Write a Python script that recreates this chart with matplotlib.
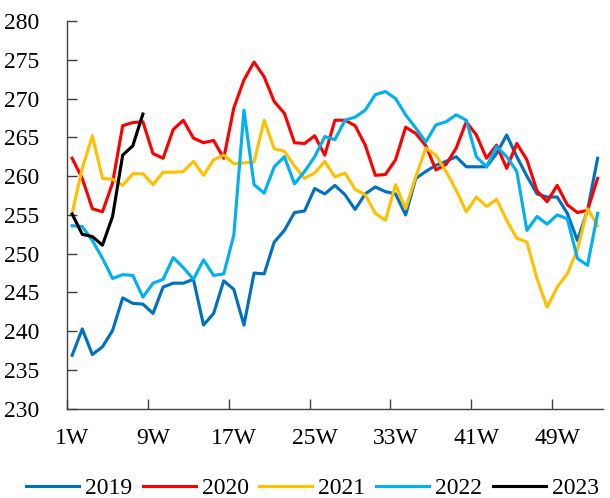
import matplotlib
matplotlib.use("Agg")
import matplotlib.pyplot as plt
from matplotlib.ticker import FixedLocator, NullFormatter

plt.rcParams['font.family'] = ['Liberation Serif', 'DejaVu Serif']

# weekly values
weeks = list(range(1, 54))
tick_weeks = [1, 9, 17, 25, 33, 41, 49]
tick_labels = ["1W", "9W", "17W", "25W", "33W", "41W", "49W"]

y2019 = [236.9, 240.3, 237.0, 238.0, 240.1, 244.3, 243.6, 243.5, 242.3, 245.7,
         246.2, 246.2, 246.7, 240.8, 242.3, 246.5, 245.4, 240.8, 247.5, 247.4,
         251.5, 253.0, 255.3, 255.5, 258.4, 257.7, 258.8, 257.6, 255.7, 257.7,
         258.6, 258.0, 257.7, 255.0, 259.7, 260.6, 261.4, 261.9, 262.5, 261.2,
         261.2, 261.2, 262.9, 265.3, 262.5, 260.0, 257.7, 257.3, 257.3, 255.2,
         251.7, 255.6, 262.3]
y2020 = [262.3, 259.7, 255.8, 255.4, 259.1, 266.5, 266.9, 267.0, 262.9, 262.3,
         266.0, 267.2, 264.9, 264.3, 264.6, 262.3, 268.8, 272.4, 274.7, 272.8,
         269.6, 268.1, 264.3, 264.2, 265.2, 262.7, 267.2, 267.2, 266.5, 264.0,
         260.1, 260.2, 262.1, 266.3, 265.5, 263.9, 260.8, 261.5, 263.6, 267.0,
         265.3, 262.3, 264.0, 261.0, 264.2, 262.1, 258.1, 256.7, 258.8, 256.3,
         255.3, 255.6, 259.7]
y2021 = [255.2, 261.0, 265.2, 259.7, 259.6, 258.8, 260.3, 260.3, 258.9, 260.5,
         260.5, 260.6, 261.9, 260.1, 262.1, 262.7, 261.6, 261.7, 261.8, 267.2,
         263.5, 263.2, 261.3, 259.7, 260.4, 261.9, 259.9, 260.4, 258.3, 257.6,
         255.2, 254.3, 258.9, 255.8, 259.9, 263.6, 262.7, 260.6, 258.2, 255.4,
         257.3, 256.1, 257.0, 254.3, 252.0, 251.5, 246.8, 243.1, 245.7, 247.4,
         250.5, 255.8, 253.6]
y2022 = [253.6, 253.5, 251.7, 249.4, 246.8, 247.3, 247.2, 244.4, 246.2, 246.7,
         249.5, 248.2, 246.7, 249.2, 247.2, 247.4, 252.4, 268.5, 258.9, 257.8,
         261.2, 262.5, 259.0, 260.6, 262.5, 265.1, 264.7, 267.2, 267.6, 268.5,
         270.5, 270.9, 270.0, 267.9, 266.2, 264.4, 266.6, 267.0, 267.9, 267.2,
         262.5, 261.2, 263.8, 262.5, 260.6, 253.0, 254.8, 253.8, 255.0, 254.5,
         249.4, 248.5, 255.2]
y2023 = [255.1, 252.5, 252.2, 251.1, 254.8, 262.7, 263.9, 268.0]

series = [("2019", y2019, "#0070C0"),
          ("2020", y2020, "#FF0000"),
          ("2021", y2021, "#FFC000"),
          ("2022", y2022, "#00B0F0"),
          ("2023", y2023, "#000000")]

fig = plt.figure(figsize=(6.1, 4.98), dpi=100)
ax = fig.add_axes([0.110, 0.179, 0.878, 0.779])

for name, vals, col in series:
    ax.plot(weeks[:len(vals)], vals, color=col, lw=2.25, label=name)

ax.set_xlim(0.5, 53.5)
ax.set_ylim(230, 280)
ax.set_yticks(range(230, 281, 5))

# ticks sit between categories, labels on the category
ax.xaxis.set_major_locator(FixedLocator([w - 0.5 for w in tick_weeks]))
ax.xaxis.set_major_formatter(NullFormatter())
ax.set_xticks(tick_weeks, minor=True)
ax.set_xticklabels(tick_labels, minor=True)
ax.tick_params(axis='x', which='major', direction='in', length=7, width=1, color='#404040')
ax.tick_params(axis='x', which='minor', length=0, pad=14, labelsize=17)
ax.tick_params(axis='y', direction='in', length=7, width=1, color='#404040', pad=20, labelsize=17)

for s in ['top', 'right']:
    ax.spines[s].set_visible(False)
for s in ['left', 'bottom']:
    ax.spines[s].set_color('#404040')
    ax.spines[s].set_linewidth(1)

fig.legend(loc='center', bbox_to_anchor=(0.512, 0.02), ncol=5, frameon=False,
           fontsize=17, handlelength=2.25, handletextpad=0.25, columnspacing=0.45,
           borderaxespad=0, borderpad=0)

fig.savefig("out.png", dpi=100)
